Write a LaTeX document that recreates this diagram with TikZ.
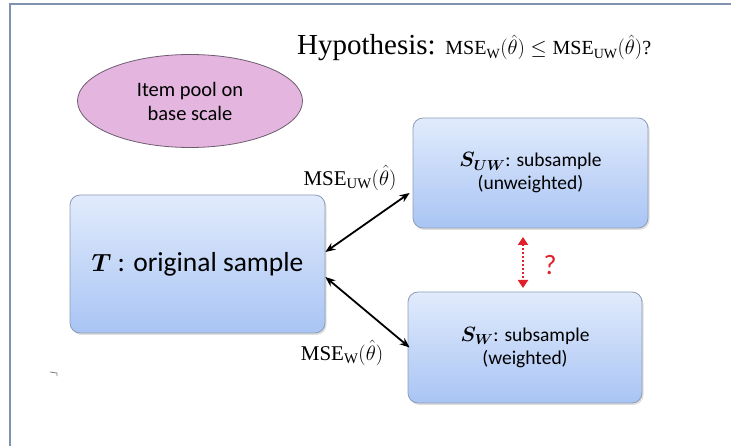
\documentclass[tikz,border=0pt]{standalone}
\usepackage{amsmath}
\usepackage{bm}
\usepackage{fontspec}
\setmainfont{Liberation Serif}
\setsansfont{Carlito}
\usetikzlibrary{shapes.geometric,shadows,arrows.meta}

\definecolor{framecol}{HTML}{7F93B0}
\definecolor{boxtop}{HTML}{E1EBFC}
\definecolor{boxbottom}{HTML}{A9C4F4}
\definecolor{boxline}{HTML}{8E9DB6}
\definecolor{poolfill}{HTML}{E4B6DF}
\definecolor{poolline}{HTML}{6E5C70}
\definecolor{askred}{HTML}{E0202A}

\begin{document}
\begin{tikzpicture}[x=1pt,y=-1pt,
	samplebox/.style={draw=boxline, line width=0.8pt, rounded corners=10pt,
		top color=boxtop, bottom color=boxbottom, align=center, font=\sffamily,
		drop shadow={opacity=0.25, shadow xshift=1.5pt, shadow yshift=-2pt}},
	msearrow/.style={line width=1.8pt, {Stealth[length=10pt,width=8pt]}-{Stealth[length=10pt,width=8pt]}},
	mselabel/.style={font=\fontsize{21}{24}\selectfont, inner sep=0pt},
]
\useasboundingbox (0,0) rectangle (731,446);
\fill[white] (0,0) rectangle (731,446);
\draw[framecol, line width=2pt] (10,446) -- (10,4) -- (731,4);

% hypothesis line
\node[anchor=west, inner sep=0pt] (hyp) at (297,48)
	{\fontsize{29}{32}\selectfont Hypothesis: \fontsize{20}{24}\selectfont
	$\mathrm{MSE}_{\mathrm{W}}(\hat{\theta}) \leq \mathrm{MSE}_{\mathrm{UW}}(\hat{\theta})$?};

% item pool
\node[ellipse, draw=poolline, line width=0.8pt, fill=poolfill, minimum width=225pt,
	minimum height=93pt, inner sep=0pt, align=center,
	font=\sffamily\fontsize{20.5}{24}\selectfont] (pool) at (190,101)
	{Item pool on\\base scale};

% samples
\node[samplebox, minimum width=255pt, minimum height=138pt,
	font=\sffamily\fontsize{27.5}{32}\selectfont] (T) at (197.5,264)
	{$\bm{T}$ : original sample};
\node[samplebox, minimum width=235pt, minimum height=110pt,
	font=\sffamily\fontsize{19.5}{23}\selectfont] (SUW) at (530.5,173)
	{$\bm{S_{UW}}$: subsample\\(unweighted)};
\node[samplebox, minimum width=234pt, minimum height=111pt,
	font=\sffamily\fontsize{19.5}{23}\selectfont] (SW) at (525,347.5)
	{$\bm{S_{W}}$: subsample\\(weighted)};

% comparisons
\draw[msearrow] ([yshift=12pt]T.east) -- ([xshift=-3pt,yshift=-20pt]SUW.west);
\draw[msearrow] ([yshift=-13pt]T.east) -- ([xshift=2pt]SW.west);
\node[mselabel] (luw) at (350,178) {$\mathrm{MSE}_{\mathrm{UW}}(\hat{\theta})$};
\node[mselabel] (lw) at (342,353) {$\mathrm{MSE}_{\mathrm{W}}(\hat{\theta})$};

\coordinate (qtop) at (523,237);
\coordinate (qbot) at (523,288);
\draw[askred, line width=2pt, dotted, {Triangle[length=8pt,width=10pt]}-{Triangle[length=8pt,width=10pt]}]
	(qtop) -- (qbot);
\node[askred, font=\sffamily\fontsize{28}{32}\selectfont] (ask) at (550,265) {?};

% stray mark
\draw[gray, line width=0.8pt] (50,372) -- (57,373) -- (57,376);

\end{tikzpicture}
\end{document}
